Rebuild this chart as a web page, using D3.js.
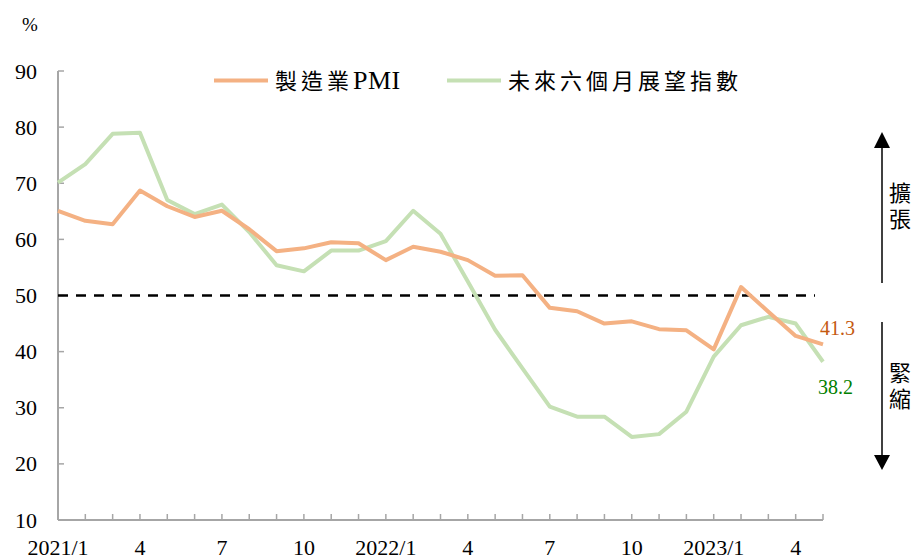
<!DOCTYPE html>
<html>
<head>
<meta charset="utf-8">
<script src="https://cdn.jsdelivr.net/npm/d3@7"></script>
<style>
  html, body { margin: 0; padding: 0; background: #fff; }
  svg { display: block; }
</style>
</head>
<body>
<div id="chart"></div>
<script>
// ── Data ────────────────────────────────────────────────────────────────────
const months = [
  "2021/1","2021/2","2021/3","2021/4","2021/5","2021/6","2021/7","2021/8","2021/9","2021/10","2021/11","2021/12",
  "2022/1","2022/2","2022/3","2022/4","2022/5","2022/6","2022/7","2022/8","2022/9","2022/10","2022/11","2022/12",
  "2023/1","2023/2","2023/3","2023/4","2023/5"
];
const pmi = [65.1, 63.3, 62.7, 68.7, 65.9, 64.0, 65.1, 61.8, 57.9, 58.4, 59.5, 59.3,
             56.3, 58.7, 57.8, 56.3, 53.5, 53.6, 47.8, 47.2, 45.0, 45.4, 44.0, 43.8,
             40.4, 51.5, 47.1, 42.8, 41.3];
const outlook = [70.1, 73.4, 78.8, 79.0, 67.0, 64.5, 66.2, 61.3, 55.4, 54.3, 58.0, 58.0,
                 59.7, 65.1, 61.0, 52.5, 43.9, 37.0, 30.2, 28.4, 28.4, 24.8, 25.3, 29.3,
                 39.1, 44.7, 46.2, 45.0, 38.2];
const xTickLabels = ["2021/1","4","7","10","2022/1","4","7","10","2023/1","4"];
const yTicks = [10, 20, 30, 40, 50, 60, 70, 80, 90];
const seriesNames = ["製造業PMI", "未來六個月展望指數"];
const zoneLabels = ["擴張", "緊縮"];

// ── Setup ───────────────────────────────────────────────────────────────────
const W = 917, H = 559;
const NUM = "'Liberation Serif', 'Times New Roman', serif";
const CJK = "'Noto Sans CJK TC', 'Noto Sans CJK SC', sans-serif";
const C_PMI = "#F4B183", C_OUT = "#C5E0B4";
const AXIS = "#A6A6A6";

const svg = d3.select("#chart").append("svg")
  .attr("width", W).attr("height", H);

const x = d3.scaleLinear().domain([0, months.length - 1]).range([58, 823]);
const y = d3.scaleLinear().domain([10, 90]).range([520, 71]);

// ── Axes ────────────────────────────────────────────────────────────────────
svg.append("line")
  .attr("x1", x(0)).attr("x2", x(0))
  .attr("y1", y(90)).attr("y2", y(10))
  .attr("stroke", AXIS).attr("stroke-width", 2);
svg.append("line")
  .attr("x1", x(0)).attr("x2", x(months.length - 1))
  .attr("y1", y(10)).attr("y2", y(10))
  .attr("stroke", AXIS).attr("stroke-width", 2);

yTicks.forEach(function (v) {
  svg.append("line")
    .attr("x1", x(0)).attr("x2", x(0) + 6)
    .attr("y1", y(v)).attr("y2", y(v))
    .attr("stroke", AXIS).attr("stroke-width", 1.5);
  svg.append("text")
    .attr("x", 37).attr("y", y(v) + 7.5)
    .attr("text-anchor", "end")
    .attr("font-family", NUM).attr("font-size", 22)
    .attr("fill", "#000")
    .text(v);
});

months.forEach(function (m, i) {
  if (i > 0) {
    svg.append("line")
      .attr("x1", x(i)).attr("x2", x(i))
      .attr("y1", y(10)).attr("y2", y(10) - 6)
      .attr("stroke", AXIS).attr("stroke-width", 1.5);
  }
});

xTickLabels.forEach(function (lab, k) {
  svg.append("text")
    .attr("x", x(k * 3)).attr("y", 555)
    .attr("text-anchor", "middle")
    .attr("font-family", NUM).attr("font-size", 22)
    .attr("fill", "#000")
    .text(lab);
});

svg.append("text")
  .attr("x", 22).attr("y", 31)
  .attr("font-family", NUM).attr("font-size", 19)
  .text("%");

// ── 50 line ─────────────────────────────────────────────────────────────────
svg.append("line")
  .attr("x1", x(0)).attr("x2", 815)
  .attr("y1", y(50)).attr("y2", y(50))
  .attr("stroke", "#000").attr("stroke-width", 2.3)
  .attr("stroke-dasharray", "10,8");

// ── Series ──────────────────────────────────────────────────────────────────
const line = d3.line().x((d, i) => x(i)).y(d => y(d));

svg.append("path").datum(outlook)
  .attr("d", line).attr("fill", "none")
  .attr("stroke", C_OUT).attr("stroke-width", 4)
  .attr("stroke-linejoin", "round");

svg.append("path").datum(pmi)
  .attr("d", line).attr("fill", "none")
  .attr("stroke", C_PMI).attr("stroke-width", 4)
  .attr("stroke-linejoin", "round");

// end labels
const last = months.length - 1;
svg.append("text")
  .attr("x", 820).attr("y", 335)
  .attr("font-family", NUM).attr("font-size", 20)
  .attr("fill", "#C55A11")
  .text(pmi[last].toFixed(1));
svg.append("text")
  .attr("x", 818).attr("y", 394)
  .attr("font-family", NUM).attr("font-size", 20)
  .attr("fill", "#008000")
  .text(outlook[last].toFixed(1));

// ── Legend ──────────────────────────────────────────────────────────────────
[[214, 275, C_PMI], [447, 508, C_OUT]].forEach(function (p, i) {
  svg.append("line")
    .attr("x1", p[0]).attr("x2", p[0] + 54)
    .attr("y1", 80.5).attr("y2", 80.5)
    .attr("stroke", p[2]).attr("stroke-width", 4);
  const t = svg.append("text")
    .attr("x", p[1]).attr("y", 89)
    .attr("font-size", 22)
    .attr("fill", "#000");
  const name = seriesNames[i];
  const m = name.match(/^([^A-Za-z]+)([A-Za-z]*)$/);
  t.append("tspan").attr("font-family", CJK).attr("letter-spacing", 4).text(m[1]);
  if (m[2]) t.append("tspan").attr("font-family", NUM).attr("font-size", 26)
    .attr("letter-spacing", 0.5).text(m[2]);
});

// ── Expansion / contraction arrows ──────────────────────────────────────────
const AX = 882;
svg.append("line")
  .attr("x1", AX).attr("x2", AX).attr("y1", 146).attr("y2", 283)
  .attr("stroke", "#000").attr("stroke-width", 1.5);
svg.append("path")
  .attr("d", `M${AX},132 L${AX - 8},148 L${AX + 8},148 Z`)
  .attr("fill", "#000");
svg.append("line")
  .attr("x1", AX).attr("x2", AX).attr("y1", 322).attr("y2", 457)
  .attr("stroke", "#000").attr("stroke-width", 1.5);
svg.append("path")
  .attr("d", `M${AX},470 L${AX - 8},455 L${AX + 8},455 Z`)
  .attr("fill", "#000");

[182, 362].forEach(function (yy, k) {
  svg.append("text")
    .attr("x", 900).attr("y", yy)
    .attr("writing-mode", "tb")
    .attr("letter-spacing", 4)
    .attr("font-family", CJK).attr("font-size", 22)
    .attr("fill", "#000")
    .text(zoneLabels[k]);
});
</script>
</body>
</html>
